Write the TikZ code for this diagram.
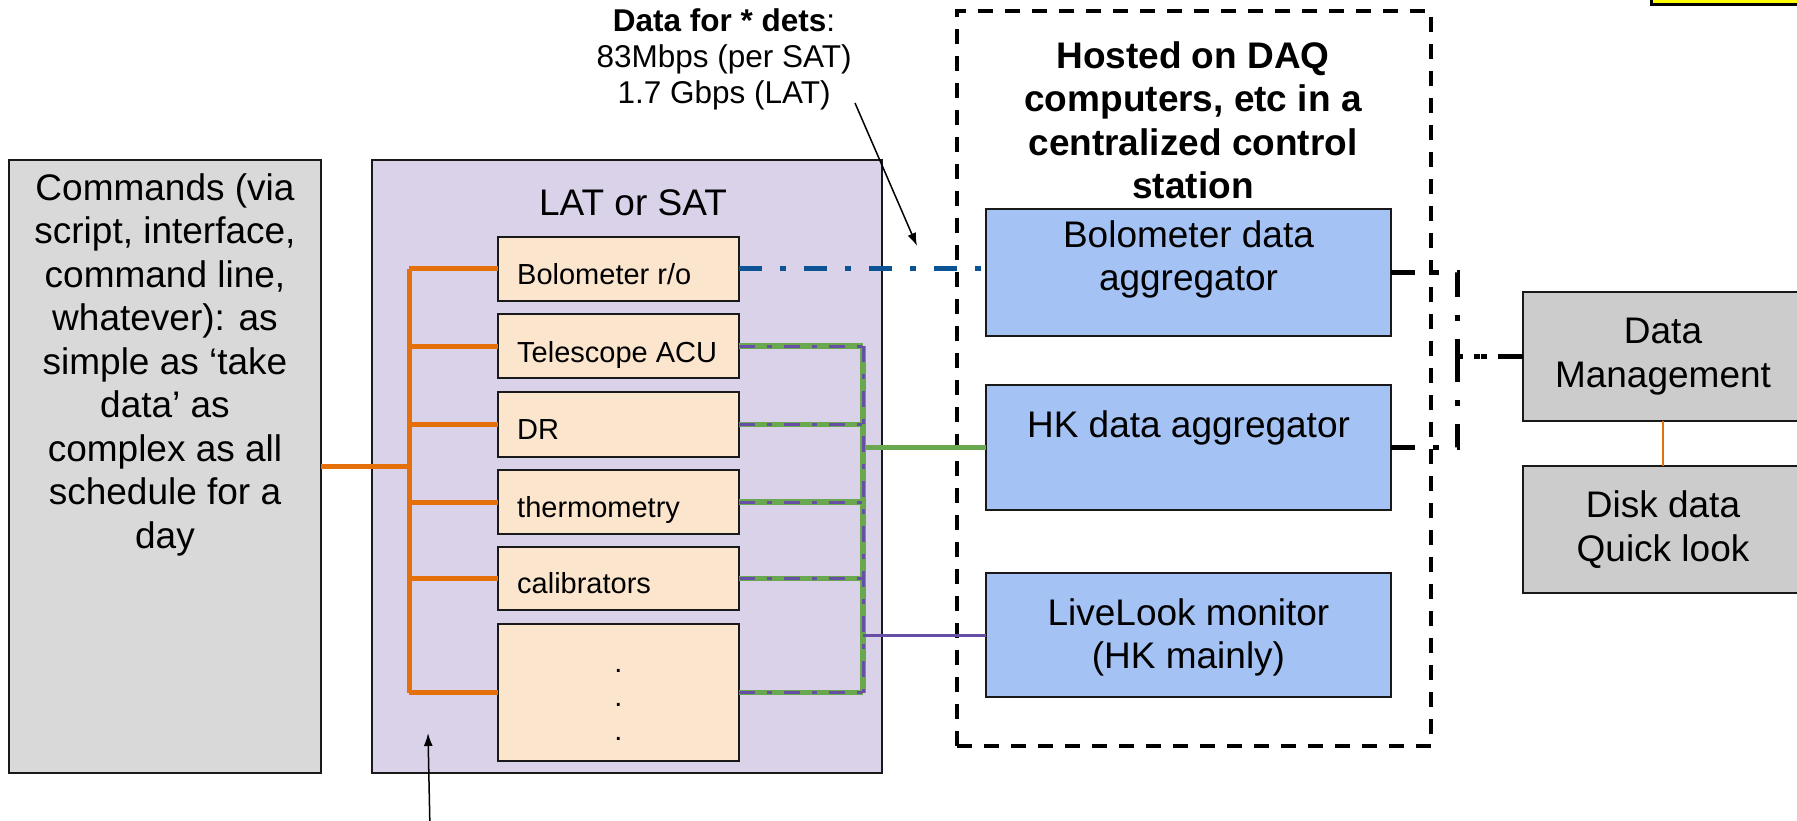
\documentclass[tikz,border=0pt]{standalone}
\usepackage{fontspec}
\setmainfont{Liberation Sans}
\usetikzlibrary{arrows.meta}

\definecolor{cmdgrey}{HTML}{D9D9D9}
\definecolor{dmgrey}{HTML}{CCCCCC}
\definecolor{telpurple}{HTML}{D9D2E9}
\definecolor{unitpeach}{HTML}{FCE5CD}
\definecolor{aggblue}{HTML}{A4C2F4}
\definecolor{ctrlorange}{HTML}{E5700A}
\definecolor{bolodata}{HTML}{0B5394}
\definecolor{hkgreen}{HTML}{6AA84F}
\definecolor{livepurple}{HTML}{674EA7}
\definecolor{flagyellow}{HTML}{FFFF00}

\tikzset{
  boxbase/.style={draw=black!90, line width=2pt, inner sep=0pt, outer sep=0pt},
  cmdbox/.style={boxbase, fill=cmdgrey},
  telbox/.style={boxbase, fill=telpurple},
  unitbox/.style={boxbase, fill=unitpeach},
  aggbox/.style={boxbase, fill=aggblue, align=center},
  dmbox/.style={boxbase, fill=dmgrey, align=center},
  bigtext/.style={font=\fontsize{37}{43.5}\selectfont, inner sep=0pt, align=center},
  smalltext/.style={font=\fontsize{29}{34}\selectfont, inner sep=0pt},
  notetext/.style={font=\fontsize{31.5}{36}\selectfont, inner sep=0pt, align=center},
  ctrlline/.style={draw=ctrlorange, line width=5pt},
  bololine/.style={draw=bolodata, line width=5pt,
    dash pattern=on 23pt off 18pt on 6pt off 18pt},
  hkline/.style={draw=hkgreen, line width=5.5pt},
  liveline/.style={draw=livepurple, line width=3pt},
  livedash/.style={draw=livepurple, line width=3pt,
    dash pattern=on 16pt off 12pt on 5pt off 12pt},
  dmline/.style={draw=black, line width=5pt,
    dash pattern=on 24pt off 18pt on 6pt off 18pt},
  hostbox/.style={draw=black, line width=4.5pt, dash pattern=on 15pt off 12pt,
    inner sep=0pt},
  pointer/.style={draw=black, line width=1.5pt, -{Latex[length=13pt,width=9pt]}},
}

\begin{document}
\begin{tikzpicture}[x=1pt, y=-1pt]
\useasboundingbox (0,0) rectangle (1797,821);
\clip (0,0) rectangle (1797,821);
\fill[white] (0,0) rectangle (1797,821);

% flag box running off the top-right corner
\draw[line width=3pt, fill=flagyellow] (1651,-20) rectangle (1830,5);

% command source
\node[cmdbox, minimum width=312, minimum height=613] (cmd) at (165,466.5) {};
\node[bigtext, anchor=north] (cmdtext) at (165,173)
  {Commands (via\\script, interface,\\command line,\\whatever): as\\simple as ‘take\\data’ as\\complex as all\\schedule for a\\day};

% telescope platform and its subsystems
\node[telbox, minimum width=510, minimum height=613] (tel) at (627,466.5) {};
\node[bigtext, anchor=base] (teltitle) at (633,216) {LAT or SAT};

\node[unitbox, minimum width=241, minimum height=64]  (bolr)   at (618.5,269) {};
\node[unitbox, minimum width=241, minimum height=64]  (acu)    at (618.5,346) {};
\node[unitbox, minimum width=241, minimum height=65]  (dr)     at (618.5,424.5) {};
\node[unitbox, minimum width=241, minimum height=64]  (thermo) at (618.5,502) {};
\node[unitbox, minimum width=241, minimum height=63]  (calib)  at (618.5,578.5) {};
\node[unitbox, minimum width=241, minimum height=137] (more)   at (618.5,692.5) {};

\node[smalltext, anchor=base west] (bolrtext)   at (517,284.5) {Bolometer r/o};
\node[smalltext, anchor=base west] (acutext)    at (517,362.5) {Telescope ACU};
\node[smalltext, anchor=base west] (drtext)     at (517,439) {DR};
\node[smalltext, anchor=base west] (thermotext) at (517,517) {thermometry};
\node[smalltext, anchor=base west] (calibtext)  at (517,593.5) {calibrators};
\node[smalltext, align=center]     (moretext)   at (618.5,705) {.\\.\\.};

% control station
\node[hostbox, minimum width=474, minimum height=735] (host) at (1194,378.5) {};
\node[bigtext, font=\fontsize{37}{43.5}\selectfont\bfseries, anchor=north] (hosttitle) at (1193,41)
  {Hosted on DAQ\\computers, etc in a\\centralized control\\station};

\node[aggbox, minimum width=405, minimum height=127] (bolo) at (1188.5,272.5) {};
\node[bigtext, anchor=north] (bolotext) at (1188.5,220) {Bolometer data\\aggregator};
\node[aggbox, minimum width=405, minimum height=125] (hk) at (1188.5,447.5) {};
\node[bigtext, anchor=north] (hktext) at (1188.5,410) {HK data aggregator};
\node[aggbox, minimum width=405, minimum height=124] (live) at (1188.5,635) {};
\node[bigtext, anchor=north] (livetext) at (1188.5,598) {LiveLook monitor\\(HK mainly)};

% data management
\node[dmbox, minimum width=280, minimum height=129, font=\fontsize{37}{43.5}\selectfont] (dm) at (1663,356.5)
  {Data\\Management};
\node[dmbox, minimum width=280, minimum height=127, font=\fontsize{37}{43.5}\selectfont] (disk) at (1663,529.5)
  {Disk data\\Quick look};

% command bus
\coordinate (obtop) at (409,269);
\coordinate (obbot) at (409,693);
\draw[ctrlline] (obtop) -- (obbot);
\draw[ctrlline] (cmd.east) -- (cmd.east -| obtop);
\foreach \u in {bolr,acu,dr,thermo,calib,more}
  \draw[ctrlline] (\u.west) -- (\u.west -| obtop);

% housekeeping bus
\coordinate (gtop) at (863,346);
\coordinate (gbot) at (863,692.5);
\coordinate (ghk) at (863,447.5);
\coordinate (glive) at (863,635);
\draw[hkline] (gtop) -- (gbot);
\foreach \u in {acu,dr,thermo,calib,more}
  \draw[hkline] (\u.east) -- (\u.east -| gtop);
\draw[hkline] (ghk) -- (hk.west);
\draw[livedash] (gtop) -- (gbot);
\foreach \u in {acu,dr,thermo,calib,more}
  \draw[livedash] (\u.east) -- (\u.east -| gtop);
\draw[liveline] (glive) -- (live.west);

% detector data
\draw[bololine] (bolr.east) -- (bolr.east -| bolo.west);

% links to data management
\draw[dmline] (bolo.east) -- ++(66,0) |- (dm.west);
\draw[dmline] (hk.east) -- ++(66,0) |- (dm.west);
\draw[draw=ctrlorange, line width=1.5pt] (dm.south) -- (disk.north);

% data-rate note
\node[notetext, anchor=north] (note) at (724,8)
  {\textbf{Data for * dets}:\\83Mbps (per SAT)\\1.7 Gbps (LAT)};
\coordinate (notefrom) at (855,103);
\coordinate (noteto) at (917,246);
\draw[pointer] (notefrom) -- (noteto);

% pointer into the telescope box
\coordinate (telfrom) at (430,830);
\coordinate (telto) at (428,733);
\draw[pointer] (telfrom) -- (telto);
\end{tikzpicture}
\end{document}
